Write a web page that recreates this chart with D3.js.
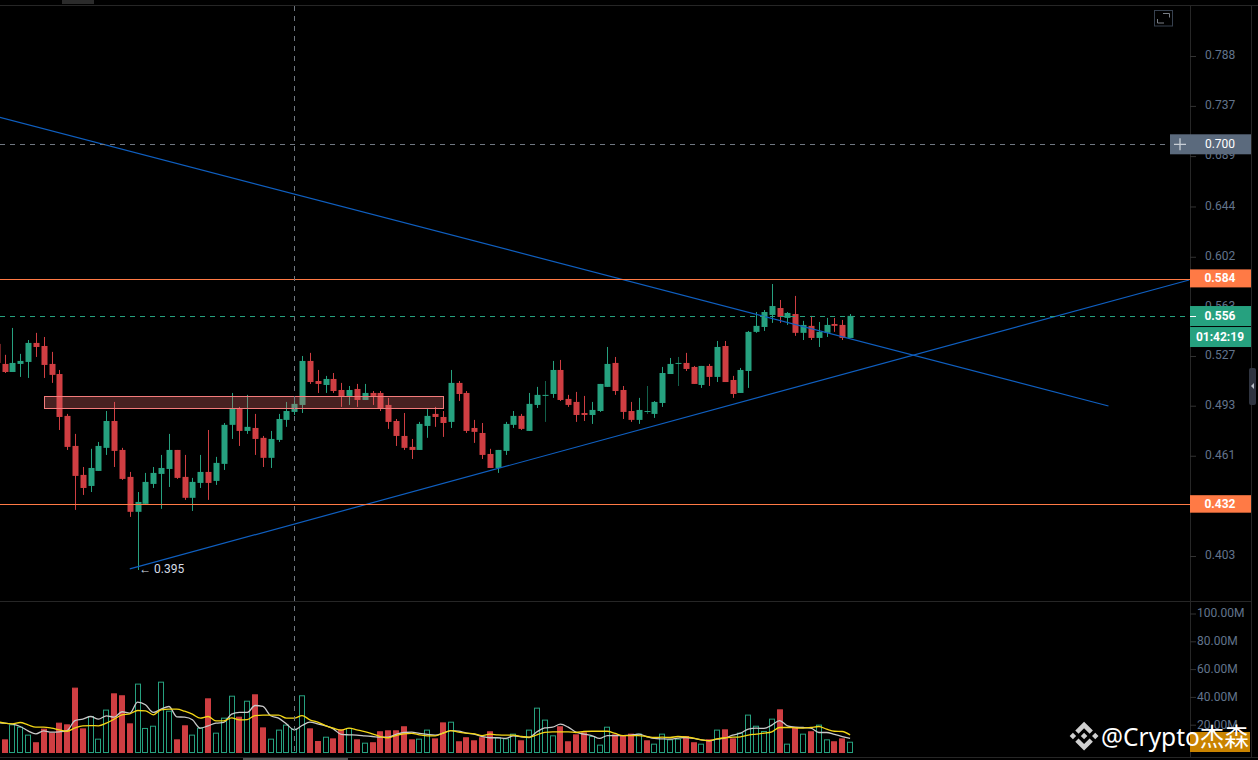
<!DOCTYPE html>
<html>
<head>
<meta charset="utf-8">
<script src="https://cdn.jsdelivr.net/npm/d3@7"></script>
<style>
  html, body { margin: 0; padding: 0; background: #000; overflow: hidden; }
  svg { display: block; font-family: Roboto, Arial, sans-serif; }
</style>
</head>
<body>
<svg id="chart" width="1258" height="760"></svg>
<script>
// values, one entry per candle
const opens = [
  .5356,.5214,.5158,.5214,.5228,.5363,.5341,.5214,.5144,.4863,
  .4671,.4493,.4427,.4517,.4659,.4830,.4646,.4481,.4276,.4322,
  .4439,.4499,.4529,.4646,.4481,.4357,.4445,.4511,.4457,.4560,
  .4805,.4909,.4766,.4785,.4722,.4597,.4709,.4837,.4889,.4935,
  .5235,.5096,.5069,.5110,.5035,.4995,.5042,.4968,.5015,.5015,
  .4935,.4830,.4734,.4665,.4646,.4798,.4876,.4856,.4824,.5083,
  .5015,.4785,.4753,.4621,.4535,.4640,.4805,.4863,.4766,.4935,
  .4995,.5008,.5172,.4975,.4955,.4882,.4869,.4895,.5056,.5221,
  .5035,.4895,.4837,.4889,.4876,.4948,.5144,.5214,.5221,.5193,
  .5069,.5200,.5124,.5341,.5103,.5015,.5165,.5443,.5479,.5568,
  .5620,.5546,.5575,.5436,.5487,.5399,.5436,.5501,.5494,.5399];
const highs = [
  .5384,.5278,.5472,.5285,.5384,.5436,.5406,.5299,.5172,.4876,
  .4747,.4541,.4653,.4696,.4895,.4955,.4659,.4511,.4391,.4505,
  .4541,.4615,.4747,.4646,.4615,.4475,.4615,.4772,.4603,.4817,
  .5015,.4922,.5002,.4876,.4734,.4766,.4876,.4955,.4988,.5270,
  .5292,.5172,.5131,.5151,.5083,.5062,.5076,.5076,.5028,.5028,
  .4982,.4843,.4882,.4715,.4824,.4909,.4922,.4895,.5172,.5096,
  .5028,.4837,.4817,.4653,.4646,.4824,.4895,.4876,.5015,.5056,
  .5096,.5235,.5242,.5002,.5022,.4995,.4955,.5076,.5334,.5263,
  .5062,.4955,.4982,.5062,.4961,.5193,.5256,.5263,.5292,.5200,
  .5200,.5214,.5377,.5377,.5131,.5186,.5450,.5590,.5605,.5804,
  .5681,.5590,.5712,.5524,.5561,.5516,.5546,.5546,.5531,.5575];
const lows = [
  .5186,.5151,.5158,.5124,.5117,.5263,.5117,.5083,.4772,.4646,
  .4287,.4374,.4391,.4517,.4615,.4541,.4463,.4247,.3955,.4322,
  .4415,.4293,.4421,.4469,.4345,.4281,.4415,.4345,.4433,.4523,
  .4715,.4671,.4747,.4615,.4541,.4535,.4696,.4792,.4869,.4882,
  .5076,.5015,.5015,.5015,.4922,.4935,.4922,.4968,.4935,.4895,
  .4779,.4671,.4646,.4590,.4646,.4722,.4792,.4728,.4785,.4961,
  .4753,.4690,.4590,.4535,.4505,.4615,.4785,.4772,.4766,.4915,
  .4824,.4982,.4961,.4922,.4824,.4830,.4811,.4889,.5056,.5002,
  .4843,.4824,.4811,.4876,.4850,.4922,.5144,.5062,.5165,.5076,
  .5049,.5062,.5089,.5089,.4982,.5015,.5049,.5436,.5450,.5509,
  .5509,.5494,.5414,.5384,.5384,.5334,.5406,.5443,.5384,.5399];
const closes = [
  .5221,.5158,.5221,.5235,.5363,.5334,.5207,.5138,.4856,.4665,
  .4487,.4415,.4535,.4671,.4830,.4640,.4469,.4276,.4333,.4451,
  .4505,.4535,.4646,.4475,.4357,.4451,.4511,.4445,.4566,.4805,
  .4909,.4766,.4792,.4715,.4597,.4715,.4843,.4895,.4942,.5235,
  .5089,.5076,.5110,.5028,.4988,.5035,.4968,.5015,.4995,.4915,
  .4824,.4734,.4659,.4646,.4811,.4863,.4856,.4817,.5083,.5008,
  .4766,.4760,.4615,.4535,.4646,.4811,.4863,.4779,.4942,.5002,
  .5002,.5172,.4968,.4935,.4869,.4869,.4902,.5076,.5214,.5028,
  .4889,.4837,.4902,.4895,.4955,.5151,.5214,.5221,.5179,.5076,
  .5200,.5124,.5334,.5089,.5008,.5172,.5443,.5487,.5590,.5635,
  .5553,.5583,.5436,.5494,.5399,.5443,.5494,.5487,.5399,.5561];

// volume in millions
const volumes = [
  16.3,9.1,19.9,18.2,12.5,7.0,16.8,13.9,21.1,19.9,
  46.3,17.0,25.9,9.6,30.5,42.2,40.8,20.6,49.2,17.3,
  18.9,50.6,29.7,9.1,19.2,12.5,17.5,38.6,13.9,24.7,
  40.5,25.4,36.9,41.5,17.7,9.6,16.1,19.7,16.8,40.8,
  17.0,7.9,11.0,9.8,16.3,17.3,9.1,6.7,7.0,14.9,
  15.6,15.6,18.5,9.1,9.6,16.1,9.8,21.3,21.8,7.7,
  10.6,8.4,10.6,14.9,10.6,9.8,13.2,8.4,16.1,31.9,
  23.3,12.0,18.5,7.7,12.7,14.1,11.5,5.3,18.2,12.7,
  11.5,13.2,13.2,8.4,6.0,13.2,9.1,9.6,11.5,7.0,
  6.0,9.1,16.1,16.3,9.8,13.9,26.9,18.9,15.1,24.0,
  30.7,6.0,18.0,13.2,14.9,19.7,9.1,7.7,9.8,7.4];
const volumeMaWhite = [
  21.6,21.1,20.4,18.7,15.6,13.4,15.6,14.6,14.9,15.8,
  23.0,24.0,25.9,24.0,26.4,25.4,29.3,28.3,36.2,34.3,
  28.8,31.2,33.1,25.7,25.4,23.5,17.5,19.2,21.1,21.6,
  27.6,28.8,28.8,33.8,33.1,26.4,24.7,20.6,16.3,19.4,
  21.8,20.6,19.2,17.0,13.0,12.7,12.5,12.0,11.5,11.0,
  11.0,13.0,14.4,14.6,13.7,13.0,12.5,13.9,15.8,15.3,
  13.9,13.2,11.5,10.6,10.6,10.1,12.0,11.3,10.8,14.9,
  17.7,18.2,20.4,18.2,14.6,13.2,12.2,10.1,12.2,12.2,
  12.2,12.5,13.2,11.5,10.1,9.8,9.6,10.3,10.8,10.1,
  9.1,8.4,9.6,10.3,12.5,13.9,16.8,17.5,17.3,19.7,
  23.0,19.2,18.2,18.0,17.5,14.4,14.4,13.0,11.5,10.1];
const volumeMaYellow = [
  22.3,21.1,20.6,21.6,19.9,18.2,18.2,17.5,16.3,15.3,
  17.7,19.2,19.4,19.2,21.1,24.0,27.1,27.8,30.2,30.0,
  27.1,30.7,31.2,31.2,29.7,27.6,24.7,25.9,22.8,22.8,
  24.9,23.5,23.7,26.6,26.9,26.9,26.9,24.7,24.7,26.6,
  23.5,21.8,19.4,17.5,16.1,17.5,16.3,15.1,13.4,11.5,
  10.6,12.2,13.4,13.7,12.7,12.0,12.0,13.9,15.8,14.6,
  13.9,13.4,12.2,13.2,12.7,12.5,12.5,11.5,11.0,12.7,
  14.4,14.9,14.9,14.9,14.4,15.1,15.3,15.3,15.3,13.7,
  12.2,12.2,12.2,11.5,10.8,11.0,10.8,11.5,11.3,10.3,
  9.1,8.6,9.8,10.6,11.0,11.3,12.5,13.2,13.9,14.9,
  18.0,18.0,17.7,17.5,18.0,18.7,16.8,15.3,15.1,12.7];
// candles whose volume bar is red although the candle reads green
const redVolumeOnGreen = [83];
const dimWicks = [70, 83, 87];

const priceTicks = [0.788, 0.737, 0.689, 0.644, 0.602, 0.563, 0.527, 0.493, 0.461, 0.403];
const volumeTicks = [20, 40, 60, 80, 100];

// drawings, as [candle index, price]
const fallingLine = [[0, 0.7265], [142, 0.4928]];
const risingLine = [[17, 0.3961], [152.3, 0.5835]];
const zoneBox = { from: 6.1, to: 57.1, top: 0.4992, bottom: 0.4912 };
const supportPrice = 0.432;
const resistancePrice = 0.584;
const lastPrice = 0.556;
const crosshairPrice = 0.700;
const crosshairIndex = 38;
const lowIndex = 18, lowPrice = 0.395;

const GREEN = "#26a17f", RED = "#cf3e42", ORANGE = "#ff7a45", BLUE = "#0f5fc0";
const GRID = "#262626", TICK_TEXT = "#62748c", CROSS = "#6f7680";

const svg = d3.select("#chart");
const plotRight = 1190;

const x = d3.scaleLinear().domain([0, 109]).range([-3.3, 850.1]);
const y = d3.scaleLog().domain([0.788, 0.403]).range([56, 556]);
const yVol = d3.scaleLinear().domain([0, 100]).range([752.5, 613.5]);
const px = i => Math.round(x(i));
const crisp = v => Math.floor(v) + 0.5;

svg.append("rect").attr("width", 1258).attr("height", 760).attr("fill", "#000");

const defs = svg.append("defs");
defs.append("clipPath").attr("id", "plot").append("rect")
  .attr("x", 0).attr("y", 6).attr("width", plotRight).attr("height", 595);

// frame
const frame = svg.append("g").attr("stroke", GRID).attr("fill", "none");
frame.append("path").attr("d", "M0,5.5H1258M0,601.5H1251M0,757.5H1258M1190.5,5V757M1251.5,5V757");
svg.append("rect").attr("x", 62).attr("y", 0).attr("width", 32).attr("height", 4).attr("fill", "#2b2b2b");
svg.append("rect").attr("x", 243).attr("y", 758).attr("width", 105).attr("height", 2).attr("fill", "#555");

// volume pane
const volG = svg.append("g");
volG.selectAll("rect").data(volumes).join("rect")
  .attr("x", (d, i) => px(i) - 2.5)
  .attr("y", d => yVol(d))
  .attr("width", 5)
  .attr("height", d => yVol(0) - yVol(d))
  .each(function (d, i) {
    const up = closes[i] >= opens[i] && !redVolumeOnGreen.includes(i);
    d3.select(this)
      .attr("fill", up ? "none" : RED)
      .attr("stroke", up ? GREEN : RED);
  });

const maLine = d3.line().x((d, i) => x(i)).y(d => yVol(d)).curve(d3.curveMonotoneX);
volG.append("path").attr("d", maLine(volumeMaWhite)).attr("fill", "none").attr("stroke", "#c9c9c9").attr("stroke-width", 1.3);
volG.append("path").attr("d", maLine(volumeMaYellow)).attr("fill", "none").attr("stroke", "#f5d716").attr("stroke-width", 1.3);

// candles
const plot = svg.append("g").attr("clip-path", "url(#plot)");
const candles = plot.selectAll("g.candle").data(opens).join("g").attr("class", "candle");
candles.append("line")
  .attr("x1", (d, i) => px(i) + 0.5).attr("x2", (d, i) => px(i) + 0.5)
  .attr("y1", (d, i) => y(highs[i])).attr("y2", (d, i) => y(lows[i]))
  .attr("stroke", (d, i) => dimWicks.includes(i) ? "#12604a" : closes[i] >= opens[i] ? GREEN : RED);
candles.append("rect")
  .attr("x", (d, i) => px(i) - 2.5)
  .attr("width", 6)
  .attr("y", (d, i) => y(Math.max(opens[i], closes[i])))
  .attr("height", (d, i) => Math.max(1, Math.abs(y(opens[i]) - y(closes[i]))))
  .attr("fill", (d, i) => closes[i] >= opens[i] ? GREEN : RED);

// zone box
plot.append("rect")
  .attr("x", crisp(x(zoneBox.from))).attr("width", Math.round(x(zoneBox.to) - x(zoneBox.from)))
  .attr("y", crisp(y(zoneBox.top))).attr("height", Math.round(y(zoneBox.bottom) - y(zoneBox.top)))
  .attr("fill", "rgba(240,110,110,0.3)").attr("stroke", "#f47c7c").attr("stroke-width", 1);

// trend lines
[fallingLine, risingLine].forEach(l => {
  plot.append("line")
    .attr("x1", x(l[0][0])).attr("y1", y(l[0][1]))
    .attr("x2", x(l[1][0])).attr("y2", y(l[1][1]))
    .attr("stroke", BLUE).attr("stroke-width", 1.2);
});

// horizontal levels
plot.append("line").attr("x1", 0).attr("x2", plotRight)
  .attr("y1", crisp(y(resistancePrice))).attr("y2", crisp(y(resistancePrice))).attr("stroke", ORANGE);
plot.append("line").attr("x1", 0).attr("x2", plotRight)
  .attr("y1", crisp(y(supportPrice))).attr("y2", crisp(y(supportPrice))).attr("stroke", ORANGE);
plot.append("line").attr("x1", 0).attr("x2", plotRight)
  .attr("y1", crisp(y(lastPrice))).attr("y2", crisp(y(lastPrice)))
  .attr("stroke", GREEN).attr("stroke-dasharray", "5,5");

// crosshair
svg.append("line").attr("x1", 0).attr("x2", 1170)
  .attr("y1", crisp(y(crosshairPrice))).attr("y2", crisp(y(crosshairPrice)))
  .attr("stroke", CROSS).attr("stroke-dasharray", "5,5");
svg.append("line").attr("x1", px(crosshairIndex) + 0.5).attr("x2", px(crosshairIndex) + 0.5)
  .attr("y1", 6).attr("y2", 752)
  .attr("stroke", CROSS).attr("stroke-dasharray", "5,5");

// low marker
svg.append("text").attr("x", x(lowIndex) + 1.5).attr("y", y(lowPrice) + 2)
  .attr("fill", "#d5dce6").attr("font-size", 12).text("\u2190 " + lowPrice.toFixed(3));

// axes
const priceAxis = svg.append("g").attr("transform", `translate(${plotRight},0)`)
  .call(d3.axisRight(y).tickValues(priceTicks).tickFormat(d3.format(".3f")).tickSize(6).tickPadding(9));
const volAxis = svg.append("g").attr("transform", `translate(${plotRight},0)`)
  .call(d3.axisRight(yVol).tickValues(volumeTicks).tickFormat(d => d.toFixed(2) + "M").tickSize(6).tickPadding(1));
[priceAxis, volAxis].forEach(a => {
  a.select(".domain").remove();
  a.selectAll("line").attr("stroke", "#333");
  a.selectAll("text").attr("fill", TICK_TEXT).attr("font-size", 12).attr("font-family", "Roboto, Arial, sans-serif");
});
priceAxis.selectAll("text").attr("y", -1);
volAxis.selectAll("text").attr("y", -0.5);

// price tags
function tag(top, h, fill, label, weight) {
  svg.append("rect").attr("x", plotRight).attr("y", top).attr("width", 61).attr("height", h).attr("fill", fill);
  svg.append("text").attr("x", plotRight + 30).attr("y", top + h / 2 + 4)
    .attr("text-anchor", "middle").attr("fill", "#fff").attr("font-size", 12)
    .attr("font-weight", weight).text(label);
}
const mid = p => y(p);
tag(mid(crosshairPrice) - 10, 20, "#5b6a7d", crosshairPrice.toFixed(3), 400);
tag(mid(resistancePrice) - 10, 18, ORANGE, resistancePrice.toFixed(3), 700);
tag(mid(lastPrice) - 10, 20, GREEN, lastPrice.toFixed(3), 700);
tag(mid(lastPrice) + 11, 20, GREEN, "01:42:19", 700);
tag(mid(supportPrice) - 9, 17.5, ORANGE, supportPrice.toFixed(3), 700);
svg.append("line").attr("x1", plotRight).attr("x2", plotRight + 6)
  .attr("y1", crisp(mid(lastPrice))).attr("y2", crisp(mid(lastPrice))).attr("stroke", "#fff");

// plus button next to the crosshair tag
svg.append("rect").attr("x", 1170).attr("y", mid(crosshairPrice) - 10).attr("width", 20).attr("height", 20).attr("fill", "#5b6a7d");
svg.append("path").attr("d", `M1174,${mid(crosshairPrice)}h12M1180,${mid(crosshairPrice) - 6}v12`)
  .attr("stroke", "#c8ced6").attr("stroke-width", 1.3).attr("fill", "none");

// volume value tag, mostly hidden by the watermark
svg.append("rect").attr("x", plotRight).attr("y", 732).attr("width", 60).attr("height", 20).attr("fill", "#c98300");

// fullscreen icon
svg.append("rect").attr("x", 1154.5).attr("y", 10.5).attr("width", 18).attr("height", 15.5)
  .attr("fill", "none").attr("stroke", "#37414f");
svg.append("path").attr("d", "M1163,13.5h6.5v4M1157.5,19v4h6.5").attr("fill", "none").attr("stroke", "#7a7f86");

// side handle
svg.append("rect").attr("x", 1249).attr("y", 368).attr("width", 7).attr("height", 37).attr("rx", 2).attr("fill", "#2f3440");
svg.append("path").attr("d", "M1254,383v6l-3,-3z").attr("fill", "#b8bec8");

// watermark
svg.append("path")
  .attr("transform", "translate(1070,722) scale(0.22)")
  .attr("fill", "#d0d0d0")
  .attr("d", "M38.73 53.2L64 27.94l25.28 25.28 14.7-14.7L64 -1.47 24.02 38.5zM-1.47 64l14.7-14.7L27.93 64l-14.7 14.7zM38.73 74.8L64 100.06l25.28-25.27 14.71 14.7L64 129.47 24.02 89.5zM100.06 64l14.7-14.7L129.47 64l-14.7 14.7zM78.92 64L64 49.08 53 60.1l-1.27 1.26-2.61 2.62L64 78.92z");
svg.append("text").attr("x", 1101).attr("y", 746)
  .attr("fill", "#fff").attr("font-size", 24.5)
  .attr("font-family", "'Noto Sans', 'Noto Sans CJK SC', sans-serif")
  .text("@Crypto杰森");
</script>
</body>
</html>
